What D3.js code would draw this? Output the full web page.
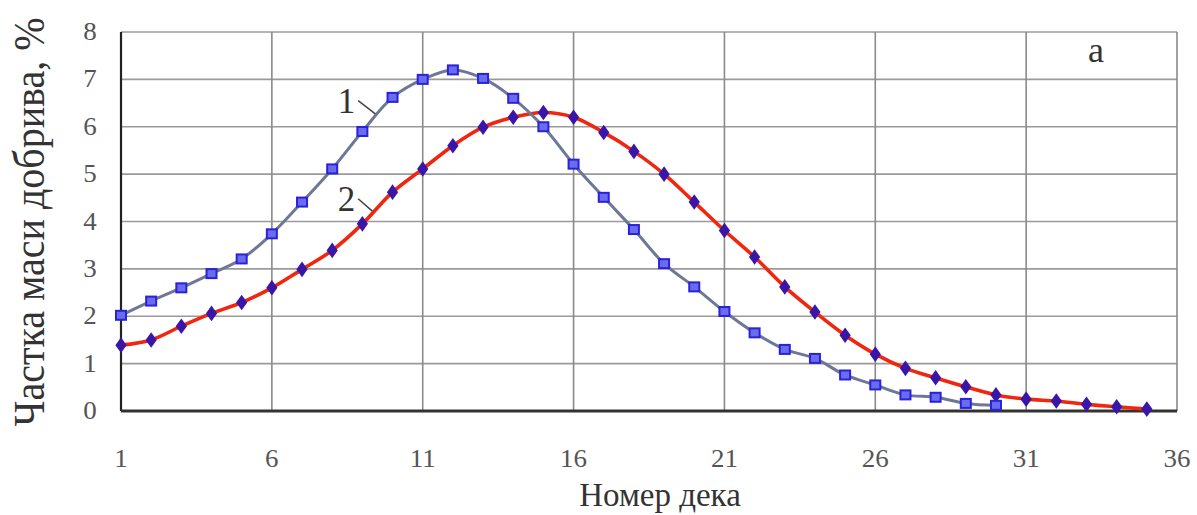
<!DOCTYPE html>
<html>
<head>
<meta charset="utf-8">
<script src="https://cdn.jsdelivr.net/npm/d3@7"></script>
<style>
  html, body { margin: 0; padding: 0; background: #fff; }
  svg { display: block; }
</style>
</head>
<body>
<svg id="chart" width="1197" height="515"></svg>
<script>
// Deck numbers and mass share of fertilizer (%) for the two distributions
const decks1 = [1,2,3,4,5,6,7,8,9,10,11,12,13,14,15,16,17,18,19,20,21,22,23,24,25,26,27,28,29,30];
const share1 = [2.02,2.32,2.6,2.9,3.21,3.74,4.41,5.11,5.9,6.62,7.0,7.2,7.02,6.6,6.0,5.21,4.51,3.83,3.11,2.62,2.1,1.65,1.3,1.11,0.76,0.55,0.34,0.29,0.16,0.12];
const decks2 = [1,2,3,4,5,6,7,8,9,10,11,12,13,14,15,16,17,18,19,20,21,22,23,24,25,26,27,28,29,30,31,32,33,34,35];
const share2 = [1.39,1.5,1.79,2.06,2.29,2.6,2.99,3.39,3.95,4.62,5.11,5.6,5.99,6.2,6.3,6.2,5.88,5.48,5.0,4.41,3.81,3.25,2.62,2.09,1.6,1.2,0.9,0.7,0.51,0.34,0.25,0.21,0.14,0.09,0.04];
const xTicks = [1,6,11,16,21,26,31,36];
const yTicks = [0,1,2,3,4,5,6,7,8];
const xTitle = "Номер дека";
const yTitle = "Частка маси добрива, %";
const panelLabel = "а";

const FONT = "'Liberation Serif', 'Times New Roman', Tinos, 'DejaVu Serif', serif";

const svg = d3.select("#chart");
const plotL = 121, plotR = 1177, plotT = 32, plotB = 411;

const x = d3.scaleLinear().domain([1, 36]).range([plotL, plotR]);
const y = d3.scaleLinear().domain([0, 8]).range([plotB, plotT]);

// grid
const g = svg.append("g");
g.selectAll("line.h").data(yTicks).join("line")
  .attr("x1", plotL).attr("x2", plotR)
  .attr("y1", d => y(d)).attr("y2", d => y(d))
  .attr("stroke", "#9a9a9a").attr("stroke-width", 1.6);
g.selectAll("line.v").data(xTicks).join("line")
  .attr("y1", plotT).attr("y2", plotB)
  .attr("x1", d => x(d)).attr("x2", d => x(d))
  .attr("stroke", "#8a8a8a").attr("stroke-width", 1.6);

// axes lines
svg.append("line").attr("x1", plotL).attr("x2", plotL).attr("y1", plotT).attr("y2", plotB)
  .attr("stroke", "#222").attr("stroke-width", 2.2);
svg.append("line").attr("x1", plotL).attr("x2", plotR).attr("y1", plotB).attr("y2", plotB)
  .attr("stroke", "#333").attr("stroke-width", 3);

function label(tx, ty, str, size, anchor, sx, rot, color) {
  return svg.append("text")
    .attr("transform", `translate(${tx},${ty}) scale(${sx},1)` + (rot ? ` rotate(${rot})` : ""))
    .attr("text-anchor", anchor)
    .attr("font-family", FONT)
    .attr("font-size", size)
    .attr("fill", color || "#333")
    .text(str);
}

// tick labels
yTicks.forEach(t => label(90, y(t) + 8, String(t), 25, "middle", 1.08, 0, "#555"));
xTicks.forEach(t => label(x(t), 467, String(t), 25, "middle", 1.08, 0, "#555"));

// axis titles
label(660, 506, xTitle, 33, "middle", 1);
label(44, 222, yTitle, 40, "middle", 1.12, -90);

// curves
const line = d3.line().curve(d3.curveCatmullRom.alpha(0.5));
const pts1 = decks1.map((d, i) => [x(d), y(share1[i])]);
const pts2 = decks2.map((d, i) => [x(d), y(share2[i])]);

svg.append("path").attr("d", line(pts2)).attr("fill", "none")
  .attr("stroke", "#f0260f").attr("stroke-width", 3.6);
svg.append("path").attr("d", line(pts1)).attr("fill", "none")
  .attr("stroke", "#6e7896").attr("stroke-width", 3);

// markers of series 2: small dark diamonds
svg.append("g").selectAll("path").data(pts2).join("path")
  .attr("d", d3.symbol(d3.symbolDiamond, 70)())
  .attr("transform", d => `translate(${d[0]},${d[1]}) scale(1.25,1)`)
  .attr("fill", "#3a16a8");

// markers of series 1: blue squares
svg.append("g").selectAll("rect").data(pts1).join("rect")
  .attr("x", d => d[0] - 5).attr("y", d => d[1] - 4.5)
  .attr("width", 10).attr("height", 9)
  .attr("fill", "#6a6cf0").attr("stroke", "#2a22d8").attr("stroke-width", 2);

// series labels with leader lines
const seriesLabels = [
  {t: "1", lx: 8.47, ly: 6.29, x1: 8.86, y1: 6.55, x2: 9.43, y2: 6.27},
  {t: "2", lx: 8.47, ly: 4.23, x1: 8.86, y1: 4.48, x2: 9.33, y2: 4.22}
];
seriesLabels.forEach(l => {
  label(x(l.lx), y(l.ly), l.t, 35, "middle", 1);
  svg.append("line")
    .attr("x1", x(l.x1)).attr("y1", y(l.y1)).attr("x2", x(l.x2)).attr("y2", y(l.y2))
    .attr("stroke", "#444").attr("stroke-width", 1.5);
});

// panel label
label(1096, 62, panelLabel, 36, "middle", 1);
</script>
</body>
</html>
